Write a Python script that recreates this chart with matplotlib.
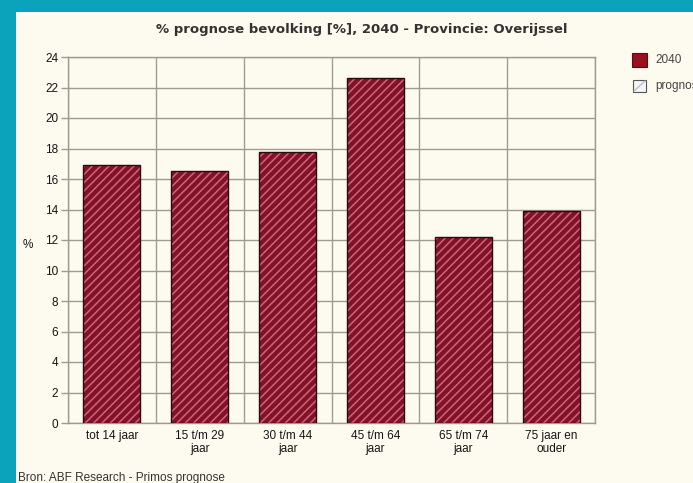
import matplotlib.pyplot as plt
from matplotlib.patches import Rectangle

categories = ['tot 14 jaar', '15 t/m 29\njaar', '30 t/m 44\njaar',
              '45 t/m 64\njaar', '65 t/m 74\njaar', '75 jaar en\nouder']
values_2040 = [16.9, 16.5, 17.8, 22.6, 12.2, 13.9]
y_ticks = list(range(0, 25, 2))

TEAL = '#0ba3bb'
CREAM = '#fdfaf0'
BAR_RED = '#7e1428'
HATCH_PINK = '#d8607a'
GRID = '#a09a90'
TXT = '#151515'
LABEL_FONT = ['Liberation Sans', 'DejaVu Sans']

W, H = 693, 483
plt.rcParams['hatch.linewidth'] = 1.1
fig = plt.figure(figsize=(W / 100, H / 100), dpi=100, facecolor=TEAL)

# cream panel inside the teal border
fig.add_artist(Rectangle((16 / W, 0), 1, 1 - 12 / H, transform=fig.transFigure,
                         facecolor=CREAM, edgecolor='none', zorder=0))

ax = fig.add_axes([68 / W, 1 - 423 / H, (595 - 68) / W, (423 - 57) / H])
ax.set_facecolor(CREAM)

xpos = [i + 0.5 for i in range(len(categories))]
# hatch takes the edge colour, so fill + hatch first, outline on top
ax.bar(xpos, values_2040, width=0.65, color=BAR_RED, edgecolor=HATCH_PINK,
       linewidth=0, hatch='////', zorder=3)
ax.bar(xpos, values_2040, width=0.65, fill=False, edgecolor='#2a0a10',
       linewidth=1.0, zorder=4)

ax.set_xlim(0, len(categories))
ax.set_ylim(0, 24)
ax.set_yticks(y_ticks)
ax.set_xticks(xpos)
ax.set_xticklabels(categories, family=LABEL_FONT, fontsize=8.5, color=TXT, linespacing=1.15)
ax.set_yticklabels([str(t) for t in y_ticks], family=LABEL_FONT, fontsize=8.5, color=TXT)
ax.tick_params(axis='x', length=0, pad=5)
ax.tick_params(axis='y', length=5, color=GRID, width=1, pad=2)

# gridlines: horizontal every 2, vertical at category boundaries
for t in y_ticks:
    ax.axhline(t, color=GRID, linewidth=1.0, zorder=1)
for b in range(len(categories) + 1):
    ax.axvline(b, color=GRID, linewidth=1.0, zorder=1)
for s in ax.spines.values():
    s.set_color(GRID)
    s.set_linewidth(1.0)

fig.text(28 / W, 1 - 245 / H, '%', fontsize=8.5, color=TXT, ha='center', va='center',
         family=LABEL_FONT)

fig.text(362 / W, 1 - 30 / H, '% prognose bevolking [%], 2040 - Provincie: Overijssel',
         fontsize=9.5, fontweight='bold', color='#333333', ha='center', va='center',
         family='DejaVu Sans')

# legend (the second entry runs off the right edge, as in the source image)
fig.add_artist(Rectangle((632 / W, 1 - 67 / H), 15 / W, 14 / H, transform=fig.transFigure,
                         facecolor='#9a0f1e', edgecolor='#5a0a12', linewidth=0.8))
fig.text(655 / W, 1 - 60 / H, '2040', fontsize=8.5, color='#444444', va='center',
         family=LABEL_FONT)
fig.add_artist(Rectangle((633 / W, 1 - 92 / H), 13 / W, 12 / H, transform=fig.transFigure,
                         facecolor='#f4f4f8', edgecolor='#555555', linewidth=0.8))
fig.add_artist(plt.Line2D([634 / W, 645 / W], [1 - 91 / H, 1 - 81 / H],
                          transform=fig.transFigure, color='#b8b8c4', linewidth=0.9))
fig.text(655 / W, 1 - 86 / H, 'prognose', fontsize=8.5, color='#444444', va='center',
         family=LABEL_FONT)

fig.text(18 / W, 1 - 478 / H, 'Bron: ABF Research - Primos prognose', fontsize=8.5,
         color='#333333', va='center', family=LABEL_FONT)

fig.savefig('out.png', dpi=100, facecolor=TEAL)
